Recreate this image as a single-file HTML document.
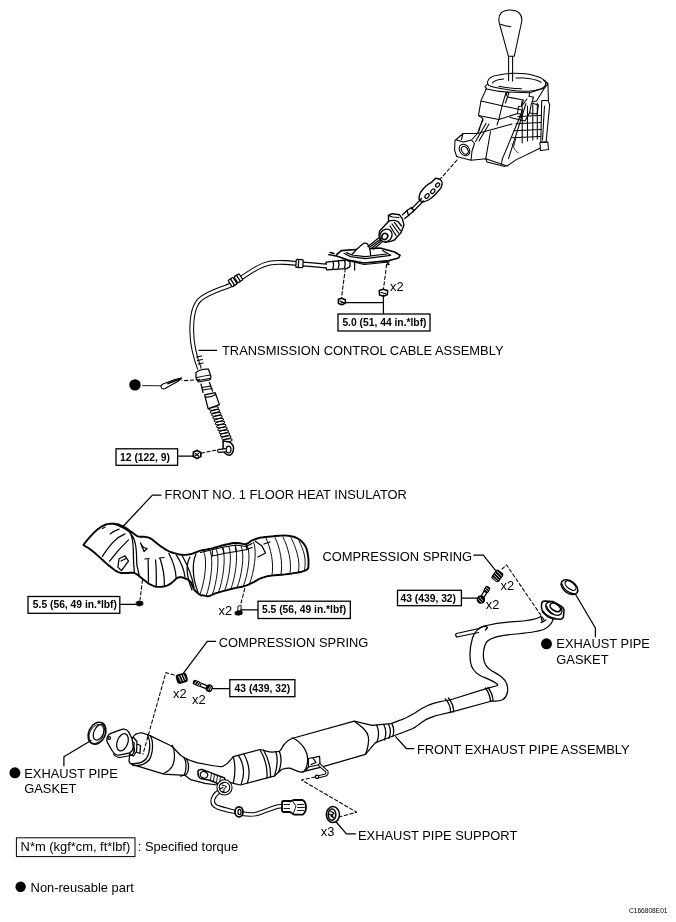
<!DOCTYPE html>
<html><head><meta charset="utf-8">
<style>
html,body{margin:0;padding:0;background:#fff;width:676px;height:922px;overflow:hidden}
svg{position:absolute;left:0;top:0;display:block;will-change:transform}
text{font-family:"Liberation Sans",sans-serif;fill:#000}
.l{font-size:12.9px}
.b{font-size:10.3px;font-weight:bold}
.k{fill:none;stroke:#000;stroke-width:1.25;stroke-linejoin:round;stroke-linecap:round}
.d{fill:none;stroke:#000;stroke-width:1.05;stroke-dasharray:3.4 2.4}
.bx{fill:#fff;stroke:#000;stroke-width:1.3}
</style></head><body>
<svg width="676" height="922" viewBox="0 0 676 922">
<g id="shifter" class="k" style="stroke-width:1.05">
<path d="M508.4,56.2 L499.3,23 C497,13 503.5,10 510.2,10 C517.5,10 523,14 521.6,22 L514.3,56.2 Z"/>
<path d="M500.7,24.3 Q505,26.3 510.8,26.6"/>
<path d="M508.6,56.5 V80.5 M512.6,56.5 V81"/>
<path d="M487.5,82 C488,78 493,75.5 498.8,74.9 C505,73.8 510,73.3 515.1,73.3 C522,73.3 529,74 534.6,75.7 C540,77 544,79 545.5,82 C546.5,85 544,87.5 541.1,88.7 C536,90.5 532,91 528.1,91.2 C520,91.5 513,90.5 507,89.5 C500,88.5 493,87.5 489,85.5 C487.8,84.8 487.4,83.5 487.5,82 Z"/>
<path d="M492.3,83 C494,80.5 498,79.5 503.7,79 M516,78 L523.2,78.1 C530,78.5 537,80 541.1,82.2 M498.8,86.3 Q510,88.5 521.6,88.7"/>
<path d="M487.5,84 L485,86.5 L486.5,89 Q497,91.5 507,92 L529.7,92.8 L544.4,87.9 L547.6,84.6 L545.5,81"/>
<path d="M486.6,88 L480.9,100.9 L502.1,105.8 L506.1,92.2 M480.9,101.2 L478.5,115.6 L498.8,119.6 L502.1,105.5"/>
<path d="M506.1,92.2 L509,92.5 L507.5,97 L523.5,100 L521.5,106 L518.5,106.5 L517.5,113.5 L522,114.5 L520.4,115.5 M507.5,97 L505.5,103 M498.8,119.6 L517.5,113.5"/>
<path d="M529.7,92.8 L529,96.5 L533.5,97 L532,102 L536.5,101 L540.8,94 L544.4,87.9"/>
<path d="M522,101 L521.5,106.5 M531.5,103 L529.5,113 L537,114 L538.5,105 Z"/>
<path d="M522.2,107 V143 M527.5,106 V141 M532.8,104.5 V140 M537.3,103 V139 M518,116.6 L541,115.5 M516,123.7 L541,122.5 M514,130.8 L541,129.5 M512,137.7 L540.5,136.5"/>
<path d="M520.4,115.5 L502.7,158.1 M526,103.5 L508.5,158.6"/>
<path d="M541.7,100.4 L547.9,100.4 L549.7,104.8 L546.1,142.1 L540.8,142.1 Z M543.5,80 L547.9,83.5 L548.4,100.4 M544.5,106 L542.5,140"/>
<path d="M539.9,142.5 L547.9,142.1 L548.5,149.5 L540.5,150.5 Z M539.9,148.3 L516,159.9 L507,166"/>
<path d="M478.5,115.6 L483,118.5 L477.5,133.5 M498.8,119.6 L497,125 M477.5,133.5 L497.5,128 L512,124 M490.5,131.5 L485.8,158.7 M483,120 Q480,126 479,131"/>
<path d="M477.5,133.5 L463,133.5 L455,140.5 L454.6,150 L456.6,156.5 L471,160.3 L485.8,158.7 L507,166 M456.5,140 L463.5,142 L471.5,140 L474.5,143.5 L472,151 L471,160.3 M463,133.5 L461.5,139.5 M471.5,140 L477.5,133.5"/>
<ellipse cx="464.5" cy="150" rx="4.8" ry="6.2" transform="rotate(-35 464.5 150)"/>
<ellipse cx="464.8" cy="150.3" rx="3" ry="4.2" transform="rotate(-35 464.8 150.3)"/>
<path d="M485.8,158.7 L487,162 L505,166.5 M502.5,158 L501.5,163.5"/>
<path d="M502.1,105.8 L522,110 L520,118 M507,92.5 L506,96 M486,123.5 L475.5,141.5 M489,124 L479,141 M510,117.5 L525,121 L530,112 M521.5,106.5 L527,99"/>
<path d="M512,144 Q514,150 518,153 M516,137 L514,146" stroke-width="0.8"/>
</g>
<g id="cabletop" class="k">
<path class="d" d="M457,160 L440.6,178.7"/>
<path stroke-width="1.4" d="M435.5,178.3 Q439,178.5 440.8,180.1 Q442.5,182 442.1,184 Q441.5,186.5 440.8,188.1 L435.5,194.3 Q432,198 428.4,200 Q425.5,201.5 423.1,201.8 Q420,201.5 419.1,199.2 Q419,195.5 420.4,192.5 Q423,189 425.7,186.3 Q428.5,184 431.1,182.7 Z"/>
<g stroke-width="1.2"><ellipse cx="437.6" cy="185" rx="2.4" ry="1.6" transform="rotate(-50 437.6 185)"/><ellipse cx="432.8" cy="191.2" rx="2.6" ry="1.7" transform="rotate(-50 432.8 191.2)"/><ellipse cx="427" cy="196" rx="2.6" ry="1.7" transform="rotate(-50 427 196)"/></g>
<path d="M421.5,198.5 L411.4,208.9 M423.5,201 L412.9,211.8"/>
<path d="M407,210.5 L411.4,207.5 L414,210.5 L408.5,215.5 Z"/>
<path d="M402.5,214.8 L407,210.5 M404.8,218.5 L408.5,215.5"/>
<path fill="#fff" stroke-width="1.4" d="M379.6,231 L388.5,221.4 L388.5,215.5 L392.2,213.7 L399.6,214.8 L402.5,219.2 L404,225.1 L401.1,232.5 L394.4,240 L390.7,241.4 L385,242.2 L380.5,240 L379,235.5 Z"/>
<path d="M388.5,221.4 Q393,219.5 398,221.5 L401.5,226 M392,224 L398.5,233 M394.5,222.5 L400.5,230.5 M390,226 L396,235.5 M388.5,215.5 L392.5,217 L399,217.5"/>
<ellipse cx="386" cy="235.5" rx="5.8" ry="6.6" transform="rotate(35 386 235.5)" fill="#fff"/>
<ellipse cx="384.8" cy="236.4" rx="2.8" ry="3.2" transform="rotate(35 384.8 236.4)" stroke-width="1.5"/>
<path d="M381.1,238.8 L370,247 M382.8,241.4 L373.7,249.2"/>
<path stroke-width="1.6" d="M336.6,254.6 L341.3,250.6 L360,249.3 L380,248 L394.6,252 L400,255.3 L398.6,258 L389.2,260.6 L364,263 L348,260 L336.6,256 Z"/>
<path d="M344,253.3 L350.6,256.6 L365.3,258.6 L390.6,255.3 L382.6,250.5 M346.5,252.6 L352,255 L365,256.6 L386.6,254"/>
<path d="M348,260.5 L364,264.5 L389.2,262 M354.6,262.8 V270 M386.5,262 L389,264.5 L386.8,265"/>
<path fill="#fff" d="M352,254.5 C355,251 359,247 362,244.5 C364,243 366,242.8 367.5,244 C369,246 370.5,251 370.6,255.5"/>
<path d="M368,246.6 L378.6,238 M371.3,248.6 L381.3,240.6"/>
<path fill="#fff" stroke-width="1.3" d="M326,262.2 L346.6,260 L350,262 L350,266.6 L346.6,268.6 L326.6,269.8 Q325,266 326,262.2 Z"/>
<path d="M332.8,261.3 Q334.3,265 332.8,268.8 M338.2,261 Q339.7,264.6 338.2,268.3 M344.4,260.6 Q345.9,264.3 344.4,268 M328.5,254.6 L336,256 M330,252.5 L334,253.5" stroke-width="1.3"/>
<path class="d" d="M345.3,268.6 L341.5,298"/>
<path class="d" d="M386.6,264.6 L383.5,289"/>
</g>
<g id="cablemain">
<path id="cpath" d="M327,266 C312,265 300,263.5 285,262.5 C272,261.8 266,263 257,268 C248,273 240,279 232,284.5 C222,289 209,292 200,299.5 C193,306 191.5,318 191.8,332 C192,345 195,357 199.5,369" fill="none" stroke="#000" stroke-width="4.8" stroke-linecap="butt"/>
<path d="M327,266 C312,265 300,263.5 285,262.5 C272,261.8 266,263 257,268 C248,273 240,279 232,284.5 C222,289 209,292 200,299.5 C193,306 191.5,318 191.8,332 C192,345 195,357 199.5,369" fill="none" stroke="#fff" stroke-width="2.7" stroke-linecap="butt"/>
<g class="k">
<g transform="translate(299.5,263.6) rotate(3)"><rect x="-3.5" y="-4" width="7" height="8" rx="1" fill="#fff"/><path d="M-1,-4 V4"/></g>
<g transform="translate(235.5,280.2) rotate(-33)"><rect x="-6.5" y="-3.8" width="6" height="7.6" rx="1" fill="#fff"/><rect x="0.5" y="-3.6" width="6" height="7.2" rx="1" fill="#fff"/><path d="M-3.5,-3.8 V3.8 M3.5,-3.6 V3.6"/></g>
<path d="M196.8,357 L201.5,356 M197.5,360.5 L202.3,359.5 M198.3,364 L203,363"/>
<path d="M196,372.5 Q201,368.5 208.5,369.2 L210.8,376 Q211,379.5 209.5,380 L198.5,382 Q196.5,380.5 196,378 Z M197.2,377.5 Q203,376 210.5,375 M198,380.5 L209.5,378.5"/>
<path d="M201,384 L203,392.5 M209.5,382.5 L212.5,391 M202,387.5 L211,386 M202.5,390 L212,388.5"/>
<path d="M204.6,394.8 L215.2,392.7 L219.4,404.6 L208.2,408.9 Z M205,397 Q210,398 215.5,394.5"/>
<g stroke-width="1.05"><ellipse cx="213.8" cy="408.5" rx="4.7" ry="1.5" transform="rotate(-11.2 213.8 408.5)"/><ellipse cx="215.0" cy="411.4" rx="4.7" ry="1.5" transform="rotate(-11.2 215.0 411.4)"/><ellipse cx="216.3" cy="414.3" rx="4.7" ry="1.5" transform="rotate(-11.2 216.3 414.3)"/><ellipse cx="217.5" cy="417.2" rx="4.7" ry="1.5" transform="rotate(-11.2 217.5 417.2)"/><ellipse cx="218.8" cy="420.1" rx="4.7" ry="1.5" transform="rotate(-11.2 218.8 420.1)"/><ellipse cx="220.0" cy="423.0" rx="4.7" ry="1.5" transform="rotate(-11.2 220.0 423.0)"/><ellipse cx="221.3" cy="426.0" rx="4.7" ry="1.5" transform="rotate(-11.2 221.3 426.0)"/><ellipse cx="222.5" cy="428.9" rx="4.7" ry="1.5" transform="rotate(-11.2 222.5 428.9)"/><ellipse cx="223.8" cy="431.8" rx="4.7" ry="1.5" transform="rotate(-11.2 223.8 431.8)"/><ellipse cx="225.0" cy="434.7" rx="4.7" ry="1.5" transform="rotate(-11.2 225.0 434.7)"/><ellipse cx="226.3" cy="437.6" rx="4.7" ry="1.5" transform="rotate(-11.2 226.3 437.6)"/><ellipse cx="227.5" cy="440.5" rx="4.7" ry="1.5" transform="rotate(-11.2 227.5 440.5)"/></g>
<path d="M223.1,440.9 L229.4,441.9 Q234,445 233.5,448.5 Q233.5,453 230.5,455 Q227,456 224.2,452.3 Q222.5,449 223.1,447.1 Z" stroke-width="1.5" fill="#fff"/>
<ellipse cx="228.6" cy="449.5" rx="2.4" ry="3.3"/>
<path d="M225.5,448.7 L218,449.7 Q216.8,451 218.5,452.3 L225.5,451.8" fill="#fff"/>
<path class="d" d="M199.5,379.5 L182,380.8"/>
<path d="M161.5,388 Q160,385.5 163,384 L175,379.5 L181.5,378 L178.5,381 L165,388.5 Q162.5,389.5 161.5,388 Z" fill="#fff" stroke-width="1.1"/><path d="M168,383.5 L181,378.5" stroke-width="1.6"/><path d="M160.5,385.8 L142.6,385.6" stroke-width="0.9"/>
<path class="d" d="M201.1,453.2 L216.5,450"/>
<path d="M193.5,452 L197,450.5 L200.8,452.5 L200.8,456.5 L197,458.5 L193.3,456.5 Z" stroke-width="1.8"/><path d="M195.5,453.5 L198.5,456 M195,456 L198.5,453.5" stroke-width="1.2"/><path d="M177.6,456 H193.3"/>
</g>
<g class="k">
<path d="M341.5,302.7 H383.4 M383.4,295 V314"/>
<path d="M338.3,299.2 L341.8,298.2 L345.3,299.8 L345.5,303 L342,304.8 L338.5,303.5 Z" stroke-width="1.5"/><path d="M340,301 L343.5,302.5"/>
<path d="M379.2,290.5 L383,289.2 L387.6,290.5 L387.4,294.5 L383.5,296.3 L379.5,295 Z" stroke-width="1.5"/><path d="M381,292.5 L385.5,293.5"/>
</g>
</g>
<g id="insulator" class="k">
<path d="M199,350.4 H216.6"/>
<path d="M161,495.1 H152.4 L123,526.5"/>
<path stroke-width="1.9" d="M83.6,544.6 L84.2,543.8 L85.0,542.8 L86.0,541.6 L87.1,540.2 L88.3,538.8 L89.5,537.5 L90.7,536.1 L92.1,534.7 L93.5,533.2 L95.0,531.7 L96.4,530.4 L97.8,529.2 L99.2,528.2 L100.5,527.2 L101.8,526.4 L103.2,525.6 L104.6,525.0 L106.0,524.5 L107.5,524.1 L109.1,523.9 L110.7,523.7 L112.4,523.7 L114.0,523.8 L115.5,523.9 L117.0,524.2 L118.4,524.5 L119.8,525.0 L121.2,525.6 L122.5,526.2 L123.8,526.8 L125.1,527.5 L126.3,528.3 L127.4,529.1 L128.6,529.9 L129.7,530.8 L130.9,531.6 L132.1,532.4 L133.3,533.3 L134.5,534.2 L135.6,535.0 L136.8,535.8 L138.0,536.3 L139.2,536.6 L140.4,536.8 L141.6,536.8 L142.8,536.8 L144.0,536.8 L145.1,536.9 L146.1,537.1 L147.0,537.2 L147.9,537.4 L148.8,537.7 L149.9,538.1 L151.0,538.7 L152.3,539.6 L153.7,540.7 L155.2,542.0 L156.8,543.3 L158.4,544.6 L160.0,545.8 L161.6,546.9 L163.3,548.0 L165.0,549.1 L166.7,550.1 L168.5,551.0 L170.3,551.8 L172.2,552.5 L174.2,553.2 L176.3,553.7 L178.3,554.2 L180.3,554.6 L182.1,554.8 L183.7,554.9 L185.3,554.9 L186.7,554.8 L188.1,554.6 L189.5,554.3 L191.0,554.0 L192.5,553.6 L194.1,553.0 L195.6,552.4 L197.2,551.8 L198.8,551.2 L200.4,550.7 L202.0,550.3 L203.6,550.0 L205.3,549.7 L207.0,549.4 L208.8,549.0 L210.7,548.6 L212.8,548.1 L215.0,547.5 L217.4,546.8 L219.7,546.1 L222.0,545.5 L224.2,545.0 L226.2,544.5 L228.2,544.1 L230.1,543.7 L232.0,543.3 L233.8,543.0 L235.6,542.9 L237.4,543.0 L239.3,543.2 L241.1,543.5 L242.8,543.9 L244.4,544.1 L245.9,544.0 L247.2,543.7 L248.2,543.1 L249.2,542.4 L250.1,541.7 L251.0,541.0 L252.1,540.4 L253.3,539.9 L254.5,539.4 L255.8,539.0 L257.1,538.5 L258.5,538.1 L260.0,537.8 L261.6,537.5 L263.2,537.3 L264.9,537.0 L266.8,536.9 L268.7,536.7 L270.8,536.5 L273.1,536.3 L275.7,536.0 L278.5,535.8 L281.2,535.6 L283.8,535.5 L286.2,535.6 L288.4,535.8 L290.5,536.1 L292.4,536.5 L294.3,537.0 L296.0,537.7 L297.7,538.5 L299.3,539.5 L300.7,540.6 L302.1,541.8 L303.3,543.2 L304.4,544.6 L305.4,546.2 L306.2,547.9 L306.8,549.8 L307.3,551.8 L307.7,553.8 L308.0,555.8 L308.3,557.7 L308.5,559.6 L308.5,561.7 L308.5,563.7 L308.4,565.6 L308.3,567.2 L308.3,568.3 L308.3,568.3 L307.9,568.6 L307.4,569.1 L306.9,569.6 L306.1,570.1 L305.0,570.7 L303.5,571.2 L301.6,571.7 L299.3,572.2 L296.7,572.7 L293.9,573.1 L291.0,573.6 L288.1,574.0 L285.0,574.4 L281.6,574.7 L278.0,575.0 L274.6,575.3 L271.5,575.6 L268.8,576.0 L266.7,576.4 L265.0,576.8 L263.6,577.3 L262.3,577.7 L261.2,578.2 L260.0,578.7 L258.9,579.2 L258.0,579.7 L257.1,580.2 L256.3,580.7 L255.3,581.2 L254.2,581.8 L252.9,582.4 L251.5,583.1 L250.0,583.8 L248.4,584.6 L246.7,585.3 L244.9,585.9 L242.9,586.5 L240.8,587.0 L238.5,587.4 L236.2,587.9 L233.8,588.4 L231.4,589.0 L228.8,589.7 L226.1,590.4 L223.2,591.1 L220.5,591.8 L218.0,592.6 L215.9,593.2 L214.2,593.8 L212.9,594.4 L211.8,595.0 L210.8,595.5 L209.8,595.9 L208.8,596.2 L207.6,596.3 L206.4,596.1 L205.3,595.9 L204.2,595.6 L203.2,595.4 L202.4,595.2 L201.9,595.2 L201.7,595.3 L201.5,595.5 L201.4,595.5 L201.2,595.5 L200.7,595.2 L199.9,594.7 L198.9,594.0 L197.7,593.1 L196.6,592.2 L195.5,591.1 L194.5,590.0 L193.7,588.7 L193.1,587.3 L192.4,585.8 L191.8,584.2 L191.2,582.8 L190.4,581.7 L189.5,580.8 L188.5,580.0 L187.4,579.4 L186.3,578.9 L185.3,578.5 L184.2,578.1 L183.2,577.7 L182.3,577.4 L181.3,577.2 L180.3,577.1 L179.2,577.2 L178.0,577.6 L176.6,578.4 L175.1,579.7 L173.6,581.1 L171.9,582.6 L170.3,583.9 L168.6,584.9 L166.9,585.6 L165.2,586.1 L163.4,586.5 L161.6,586.8 L159.9,586.9 L158.3,586.9 L156.8,586.8 L155.3,586.5 L154.0,586.1 L152.6,585.5 L151.3,584.9 L150.0,584.3 L148.7,583.6 L147.5,582.7 L146.3,581.8 L145.2,580.8 L144.0,579.9 L142.7,578.9 L141.4,577.9 L140.0,576.8 L138.5,575.6 L137.1,574.5 L135.7,573.6 L134.4,573.0 L133.2,572.7 L132.0,572.6 L130.8,572.7 L129.7,572.8 L128.5,573.0 L127.3,573.0 L126.0,573.0 L124.7,573.0 L123.3,573.0 L121.9,573.0 L120.5,572.8 L119.1,572.4 L117.7,571.8 L116.4,571.1 L115.0,570.2 L113.7,569.3 L112.3,568.2 L110.8,567.1 L109.3,565.9 L107.7,564.6 L106.1,563.1 L104.5,561.7 L102.9,560.2 L101.3,558.8 L99.7,557.4 L98.1,555.9 L96.5,554.5 L94.9,553.0 L93.3,551.7 L91.8,550.5 L90.3,549.4 L88.7,548.3 L87.1,547.3 L85.7,546.5 L84.5,545.7 L83.6,545.2 Z"/>
<path d="M114.3,524.5 C121,526 126,528 129.5,532 C132,535 133,540 133.3,550 L133.6,562.3 L134.4,573 M119.1,526.2 C125,528.5 129,531 131.5,534.5 C134.5,538.5 136,545 136.4,552 L136.8,564.7 L139.2,575.4"/>
<path d="M125,533.9 C120,536 116,539 113.1,542.2 C109,547 105,552 102.5,556.4 M128.5,539.9 C122,546 115,554 109.6,561.2 M110.2,533.9 Q114,531 119.1,529.2 M102.5,528.5 L105,527"/>
<path d="M119.1,558.8 L125,555.8 L128.5,561.2 L121.4,570.6 L117.9,567.1 Z M121,561 L126,558.5"/>
<path d="M148.1,559.2 L148.5,581.5 M145,559 L149,558.5 M155.5,560 C156.5,568 156.5,576 156.2,586.5 M159.3,558 L164,557.5 M160,558.5 C163,567 164.5,575 164.4,585.5 M140.5,543 L143.5,547.5 L147,548.5 L144,551.5 Z"/>
<path d="M168.8,553.3 Q175.5,565.9 176.2,578.5"/>
<path d="M176.2,554.8 Q183.6,565.9 185,577"/>
<path d="M182.1,555.5 Q191.1,571.4 194,587.3"/>
<path d="M190,557 C186,564 186,575 192,590 M196,554 C192,563 192,578 198.5,593.5"/>
<path stroke-width="0.95" d="M204.0,552.4 C208.0,561.4 204.0,584.7 200.0,594.2"/>
<path stroke-width="0.95" d="M210.2,551.2 C214.2,560.2 210.2,586.1 206.2,595.6"/>
<path stroke-width="0.95" d="M216.4,549.6 C220.4,558.6 216.4,584.7 212.4,594.2"/>
<path stroke-width="0.95" d="M222.6,547.9 C226.6,556.9 222.6,582.4 218.6,591.9"/>
<path stroke-width="0.95" d="M228.8,546.4 C232.8,555.4 228.8,580.7 224.8,590.2"/>
<path stroke-width="0.95" d="M235.0,545.4 C239.0,554.4 235.0,579.1 231.0,588.6"/>
<path stroke-width="0.95" d="M241.2,546.1 C245.2,555.1 241.2,577.7 237.2,587.2"/>
<path stroke-width="0.95" d="M247.4,546.0 C251.4,555.0 247.4,576.3 243.4,585.8"/>
<path stroke-width="0.95" d="M253.6,542.3 C257.6,551.3 253.6,574.0 249.6,583.5"/>
<path stroke-width="0.95" d="M266.0,538.4 C271.0,548.4 274.0,563.6 272.0,575.1"/>
<path stroke-width="0.95" d="M275.0,537.6 C280.0,547.6 283.0,562.7 281.0,574.2"/>
<path stroke-width="0.95" d="M283.0,537.0 C288.0,547.0 292.0,561.7 290.0,573.2"/>
<path stroke-width="0.95" d="M291.0,537.7 C296.0,547.7 300.5,560.3 298.5,571.8"/>
<path stroke-width="0.95" d="M299.0,540.8 C304.0,550.8 306.5,558.9 304.5,570.4"/>
<path d="M200.4,552.5 L224,547 L236,545 L246,546.5 L252,543.5 M212,556 L224,553.5 L236,551.5 L247,549.5 L252,547.5 M212,556 L212.5,551 M224,553.5 L223,548 M236,551.5 L235.5,546 M247,549.5 L246,545"/>
<path d="M255,541 L262,546 L265.5,553 L258,557 M264,544 L270,542"/>
<path d="M119.8,604.4 H137"/>
<path d="M136.3,602 Q139.5,599.8 142.8,602 L143,604.5 Q141,606.5 137.5,605.8 Z" fill="#000" stroke-width="0.8"/>
<path d="M241,609.8 H258"/>
<path d="M238.4,606 L241.2,605.5 L240.8,612 L238,612.5 Z" stroke-width="0.9"/>
<path d="M235.2,612 Q238,609.8 242,611 L242.2,614 Q239,616 235.5,614.8 Z" fill="#000" stroke-width="0.8"/>
<path class="d" d="M142.5,580 L140,600"/>
<path class="d" d="M244.8,588.5 L240.5,605"/>
</g>
<g id="exhaust" class="k">
<!-- Right Y pipe -->
<path d="M541,616.5 C535,620 528,621 514.4,621.6 C505,622 496,623 484.2,626 C478,628 474.5,632 472.5,638 C470,646 469.5,655 470.5,662 C471.5,669 475,673 481,676 C488,679 494,681 497.6,684.5"/>
<path d="M553.4,618.9 C552,623 549.5,627 543.5,629.5 C537,632 528,633 510.4,634.5 C500,635.3 493,636.5 487.5,641 C484,645 483,651 483.5,658 C484,664 487,668 492,671 C498,674.5 504,677 506.8,684 C508.5,689 508,696 503,699.5 C500,701 496,701.5 492,701"/>
<path d="M497.6,685.5 L485.4,688.8 L449.9,700 L443.2,701 C437,702.5 432,703.5 427.7,705.5 C422,708 418,711 414.4,713.3 C409,716.5 405,718.5 401.1,719.9 C400,720 395,722.5 390.9,723.7 L372,725.4"/>
<path d="M492,701 L451,712.1 L436.6,715.5 C432,717 428,718 425.5,719.9 C420,723 417,726.5 412.2,728.8 C406,731.5 399,734 394.4,735.5 L375.5,742.6"/>
<path d="M485.4,688 Q490,694 490.5,701.5 M488,687.5 Q493,694 493,701 M445.4,698.8 Q451,705 450.5,712.5 M448.5,698 Q454,705 453.5,712"/>

<path d="M395.6,736.7 L406.3,748.5 H413.8"/>
<!-- flange right -->
<path fill="#fff" stroke-width="1.5" d="M541.5,603.9 Q542,601 544.5,600.9 L552.8,601.5 L560.4,605.7 Q564,608 564,610.4 L563.4,616.9 Q562.5,619 561,619.3 L552.8,618.7 L548,616.9 L542.7,612.2 Q541,608 541.5,603.9 Z"/>
<ellipse cx="553.8" cy="608.6" rx="9" ry="5.6" transform="rotate(32 553.8 608.6)" stroke-width="1.2"/>
<ellipse cx="555.3" cy="607.4" rx="5.8" ry="3.4" transform="rotate(32 555.3 607.4)" stroke-width="1.6"/>
<path d="M546.5,606 Q548,611.5 554,614.5 M543,611 Q547,617 556,618.5"/>
<path d="M541,617 L542.5,622 L546,620"/>
<!-- small tube -->
<path d="M456.5,633.5 L479,628.5 M457,637 L478.5,632.5 M456.5,633.5 Q454.5,635 457,637 M479,628.5 Q484,625 487.5,627.5 L485.5,630"/>
<!-- gasket right -->
<ellipse cx="569.5" cy="587.2" rx="9.4" ry="6" transform="rotate(37 569.5 587.2)" stroke-width="1.5"/>
<ellipse cx="570.6" cy="585.6" rx="6.4" ry="3.4" transform="rotate(37 570.6 585.6)" stroke-width="1.3"/>
<path d="M562,584 C563,589 569,593.5 575,594"/>
<path d="M575.6,594.5 L595.4,628 V636.8"/>
<!-- spring upper -->
<path d="M483.3,555.2 H473.8 M483.3,555.2 L495.5,570.4"/>
<g transform="translate(497.4,575.9) rotate(35)"><rect x="-4.6" y="-5.5" width="9.2" height="11" rx="2.3" fill="#000" stroke="none"/><path d="M-3,-3.5 L3,-2.5 M-3.2,-1 L3.2,0 M-3,1.5 L3,2.5 M-2.5,4 L2.5,4.5" stroke="#fff" stroke-width="0.8"/></g>
<path class="d" d="M502,569.2 L506.4,564.8 L544.6,620.7 L541,622.5"/>
<!-- bolt upper -->
<path d="M461.4,598 H477"/>
<g transform="translate(480.9,599.5) rotate(31)"><ellipse cx="0" cy="0" rx="4.2" ry="4.3" fill="#000" stroke="none"/><path d="M-2,-1.5 L2,0 M-2,1.2 L2,2" stroke="#fff" stroke-width="0.7"/><path d="M-1.6,-4 L-1.6,-8.5 M1.6,-4 L1.6,-8.5" stroke-width="1.3"/><rect x="-2.8" y="-15" width="5.6" height="6.8" rx="2" fill="#000" stroke="none"/><path d="M-1.5,-13 L1.5,-12.5 M-1.5,-11 L1.5,-10.5" stroke="#fff" stroke-width="0.7"/></g>
<!-- Main converter 2 -->
<path d="M283.3,745.5 C286,742 289,739 293.6,738 L354.3,721.1 L372,725.4"/>
<path d="M281.5,769.5 C285,768.5 288,768 290.1,768.2 C294,769.5 297,771.5 301,772.1 L323.2,766.6 L365.4,754.4 L375.5,742.6"/>
<path d="M292.2,737.7 C302,742 308,752 307.6,760 C307.5,766 305.5,770 303,772.3"/>
<path d="M354.2,721.3 C362,727 367.5,731 368.4,737 C369,742 368,748 365.4,754.4"/>
<path d="M376.7,725.2 Q380.5,733 376.8,742.5 M383.8,724.8 Q387.5,731.5 384.5,740 M388.5,724.3 Q392,731 389,738.3 M392,723.9 Q395,730 392.8,736.5"/>
<path d="M308.3,758.5 L319.6,756.3 L320,764.5 L308.5,767 Z M313,758 L316,762.5 L311,764.5 M308.5,767 L306,770"/>
<path d="M319.6,765 L327,771.6 Q327.5,774 325.6,775 L317,777.2" fill="none" stroke="#000" stroke-width="3.2"/><path d="M319.6,765 L327,771.6 Q327.5,774 325.6,775 L317,777.2" fill="none" stroke="#fff" stroke-width="1.2"/>
<circle cx="317" cy="776.8" r="1.7" fill="#fff"/>
<path class="d" d="M315,777 L301.5,780 L356.6,812.2 L340.6,816.6"/>
<!-- converter 1 -->
<path d="M135.5,734.4 C138,733 141,732.8 142.9,733.1 C145,733.5 147,734.8 149.9,735.6 L171,745.8 C175,749 178,753 181,755.5 C185,758.5 190,761 197.8,762.8 L212,765.5 C217,766.5 220,767 222.6,766.4 C225,765 227,764 227.9,762.8 L233.3,756.6 L259.9,749.5 C264,750 268,752 272.3,752.2 L279.4,751.3 C282,749 282.5,747 283.3,745.5"/>
<path d="M135.5,734.4 C132.5,737 131,741 130.9,742.7 L129,761.2 C129.5,763.5 131.5,764.5 133.6,764.9 L163.9,774.2 L185.2,775.4 L190.7,779.7 L204.9,783.3 L217.3,785 C221,784 224,782 226.2,781.5 C229,782 231,782.5 233.3,783.3 L240.4,785 L267,777.9 L274.1,776.2 L281.5,769.5"/>
<path d="M149.9,735.4 C153.5,740 153.5,752 149.5,759.5 C146,764 140,766 133,765.5 M147.3,734.8 C151,741 150.5,752 146.5,758.5 C143,762.5 137,764 131.5,763.5 M172.3,745.4 C175,750 175.5,760 172.3,766.2 C170,770 167,772 164,773.3 M186.5,759.1 C189,763 189.5,770 186.5,774.4 L180.6,776.2 M184,757.8 C186.5,762 187,769 184.2,775"/>
<path d="M233.3,756.6 Q236.5,769 233.3,783.3 M238.6,755.7 Q247,769 241.2,784.1 M244,754.3 Q252,769 247.5,782.5 M259.9,749.5 Q268,763 267,777.9 M263.5,750 Q271,763 270.5,777 M275.9,751.8 Q279,762 274.5,776 M279.4,751.3 Q283,761 278.5,772.5"/>
<path d="M129.5,739 L133.5,737.5 L137,741.5 L136.5,751.5 L133.5,756 L130,754.5 M134,742 L134,752 M137,744 L140.5,745.5 L140,753.5 L136.5,752"/>
<!-- flange left -->
<path fill="#fff" stroke-width="1.3" d="M107.2,737.5 Q108,734 112,732.8 L122.6,729.2 Q126,728.5 128.5,731.6 L132.1,738.7 L133.3,747 Q133,751 129.7,752.9 L119.1,755.2 Q115,755.5 112,750.5 L107.2,742.2 Q106.5,739.5 107.2,737.5 Z"/>
<path d="M133.3,747 L134.5,750 Q134,754 130.5,755.5 L120,757.5 Q116,757.5 113.5,754"/>
<ellipse cx="122.5" cy="742.2" rx="5.3" ry="8.9" transform="rotate(20 122.5 742.2)"/>
<circle cx="109.2" cy="738" r="1.3"/>
<!-- gasket left -->
<ellipse cx="97" cy="733.2" rx="8.3" ry="11.5" transform="rotate(25 97 733.2)" stroke-width="1.5"/>
<ellipse cx="96.5" cy="734" rx="6.8" ry="10" transform="rotate(25 96.5 734)" stroke-width="0.8"/>
<ellipse cx="98.8" cy="732.3" rx="4.8" ry="8.3" transform="rotate(25 98.8 732.3)" stroke-width="1.2"/>
<path d="M91,740.5 L63.9,756.8 V765.7"/>
<!-- dashed left spring -->
<path class="d" d="M174.2,675 L165.9,672.6 L143,754"/>
<!-- spring left -->
<path d="M207.3,641.4 H215.6 M207.3,641.4 L182.9,673.9"/>
<g transform="translate(181.8,678.3) rotate(-15)"><rect x="-5.6" y="-4.9" width="11.2" height="9.8" rx="3" fill="#000" stroke="none"/><path d="M-2.5,-2.8 L-1.5,2.5 M0,-3 L1,2.8 M2.5,-2.8 L3.2,2.2" stroke="#fff" stroke-width="0.8"/></g>
<!-- bolt left -->
<g transform="translate(209.2,688.2) rotate(-68)"><ellipse cx="0" cy="0" rx="3.9" ry="3.6" fill="#000" stroke="none"/><path d="M-2,-0.5 L2,0.5 M-1.5,1.5 L1.5,2" stroke="#fff" stroke-width="0.7"/><path d="M-1.6,-3.5 L-1.6,-9 M1.6,-3.5 L1.6,-9" stroke-width="1.3"/><rect x="-2.5" y="-17.5" width="5" height="8.8" rx="2" fill="#000" stroke="none"/><path d="M-1.5,-15 L1.5,-14.5 M-1.5,-12.5 L1.5,-12 M-1.5,-10.5 L1.5,-10" stroke="#fff" stroke-width="0.7"/></g><path d="M212.6,688.5 H229.8"/>
</g>
<g id="o2" class="k">
<path fill="#fff" stroke-width="1.5" d="M198,771 Q199,769.3 202,769.5 L209.8,772.4 L224.6,778 Q225.5,780 224.5,781.5 L219.5,784.2 L209.8,780.2 L200.5,778.5 Q197.5,776.5 198,771 Z"/>
<ellipse cx="204" cy="774.8" rx="3.8" ry="3.2" transform="rotate(20 204 774.8)" stroke-width="1.3"/>
<path d="M211.5,773.5 L210.5,779.5 M214.5,774.8 L213.5,780.8 M217.5,776 L216.5,782 M220.5,777.2 L219.5,783" stroke-width="0.9"/>
</g>
<path d="M224,789 C219,791 214.5,794.5 213,799 C212,803 213.5,805.5 217,807 C222,809 229,810.5 236.4,812.3 C244,814.5 251,815.5 258,813.5 C266,811 272,808 278,806.5 L283,806" fill="none" stroke="#000" stroke-width="4.6"/>
<path d="M224,789 C219,791 214.5,794.5 213,799 C212,803 213.5,805.5 217,807 C222,809 229,810.5 236.4,812.3 C244,814.5 251,815.5 258,813.5 C266,811 272,808 278,806.5 L283,806" fill="none" stroke="#fff" stroke-width="2.5"/>
<g class="k">
<circle cx="224.5" cy="787.4" r="6.4" fill="none" stroke="#000" stroke-width="3.4"/>
<circle cx="224.5" cy="787.4" r="6.4" fill="none" stroke="#fff" stroke-width="1.3"/>
<path d="M222,785 L226.5,786.5 L223.5,790" stroke-width="1"/>
<ellipse cx="239" cy="811.9" rx="4" ry="5" stroke-width="1.8" fill="#fff"/>
<ellipse cx="239.5" cy="811.9" rx="1.5" ry="2.6" stroke-width="1.2"/>
<rect x="282" y="801" width="10.5" height="11" rx="1.5" fill="#fff" stroke-width="1.8"/>
<path d="M284,804.5 H291 M284,808.5 H291" stroke-width="0.9"/>
<path d="M290,801.5 L294,799.8 L302.5,800 Q306.2,802 306,807.5 Q306,812.5 302.5,814.7 L294,814.5 L290,812" fill="#fff" stroke-width="1.8"/>
<path d="M292.5,801 L296,806 L293.5,813 M297.5,804.5 H304 M297.5,807.5 H304.5 M297.5,810.5 H304" stroke-width="0.9"/>
<ellipse cx="332.9" cy="814.6" rx="6.6" ry="8" stroke-width="1.5"/>
<ellipse cx="332" cy="814.6" rx="3.8" ry="5.6" stroke-width="1.6"/>
<path d="M330,811 L334,813 L331,816 L334,818 M329,814 L333,816" />
<path d="M336.2,822 L346.4,833.9 H355.3"/>
</g>
<g id="texts">
<text class="l" x="222" y="354.8">TRANSMISSION CONTROL CABLE ASSEMBLY</text>
<text class="l" x="164.6" y="499">FRONT NO. 1 FLOOR HEAT INSULATOR</text>
<text class="l" x="322.4" y="560.7">COMPRESSION SPRING</text>
<text class="l" x="218.7" y="647">COMPRESSION SPRING</text>
<text class="l" x="556.3" y="648.2">EXHAUST PIPE</text>
<text class="l" x="556.3" y="664">GASKET</text>
<text class="l" x="24.2" y="778.1">EXHAUST PIPE</text>
<text class="l" x="24.2" y="793">GASKET</text>
<text class="l" x="416.9" y="753.8">FRONT EXHAUST PIPE ASSEMBLY</text>
<text class="l" x="358" y="839.6">EXHAUST PIPE SUPPORT</text>
<text class="l" x="20.6" y="851.3">N*m (kgf*cm, ft*lbf)</text>
<text class="l" x="137.8" y="851.3">: Specified torque</text>
<text class="l" x="30.6" y="892.1">Non-reusable part</text>
<text x="629" y="913" style="font-size:6.6px">C166808E01</text>
<text class="l" x="390" y="291">x2</text>
<text class="l" x="218.5" y="615">x2</text>
<text class="l" x="500.5" y="590.3">x2</text>
<text class="l" x="485.7" y="608.6">x2</text>
<text class="l" x="173" y="698.2">x2</text>
<text class="l" x="192" y="703.6">x2</text>
<text class="l" x="320.8" y="835.8">x3</text>
</g>
<g id="boxes">
<rect class="bx" x="338" y="314" width="92" height="17"/>
<text class="b" x="342.4" y="325.8">5.0 (51, 44 in.*lbf)</text>
<rect class="bx" x="116" y="448.8" width="61.6" height="16.5"/>
<text class="b" x="120.1" y="460.5">12 (122, 9)</text>
<rect class="bx" x="28" y="596.5" width="91.8" height="16.8"/>
<text class="b" x="32.8" y="608.3">5.5 (56, 49 in.*lbf)</text>
<rect class="bx" x="258" y="601.2" width="92.3" height="17.3"/>
<text class="b" x="262" y="613.2">5.5 (56, 49 in.*lbf)</text>
<rect class="bx" x="397.5" y="590.3" width="63.9" height="15.4"/>
<text class="b" x="400.5" y="601.8">43 (439, 32)</text>
<rect class="bx" x="229.8" y="679.7" width="65.1" height="17"/>
<text class="b" x="234.6" y="692">43 (439, 32)</text>
<rect x="16.4" y="837.8" width="118.6" height="18.8" fill="none" stroke="#000" stroke-width="1"/>
</g>
<g id="dots">
<circle cx="135" cy="384.9" r="5.7"/>
<circle cx="546.5" cy="643.8" r="5.5"/>
<circle cx="14.9" cy="772.8" r="5.5"/>
<circle cx="20.6" cy="886.8" r="5.2"/>
</g>
</svg>
</body></html>
